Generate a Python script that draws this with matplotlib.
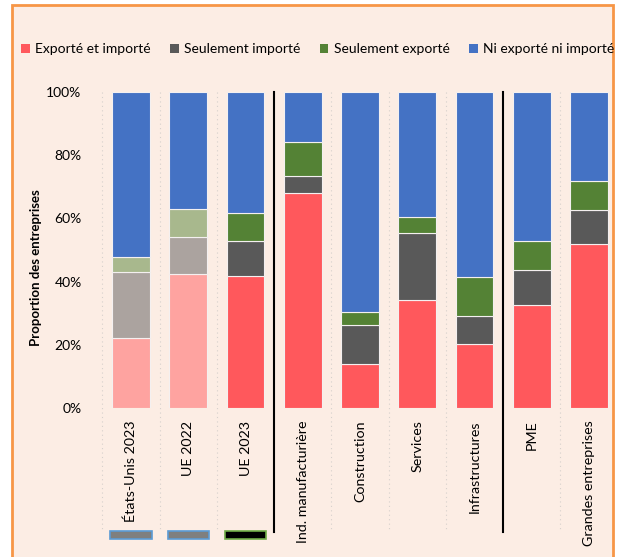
import numpy as np
import matplotlib
matplotlib.use("Agg")
import matplotlib.pyplot as plt
from matplotlib.patches import Rectangle, Patch
from matplotlib.colors import to_rgb

plt.rcParams['font.family'] = ['Lato', 'DejaVu Sans']

categories = ['États-Unis 2023', 'UE 2022', 'UE 2023',
              'Ind. manufacturière', 'Construction', 'Services', 'Infrastructures',
              'PME', 'Grandes entreprises']

# shares in %
export_import = [22.2, 42.3, 41.7, 67.9, 13.9, 34.1, 20.2, 32.5, 51.9]
import_only   = [20.8, 11.7, 11.1, 5.4, 12.3, 21.2, 9.0, 11.3, 10.8]
export_only   = [4.8, 8.9, 9.0, 10.8, 4.2, 5.1, 12.3, 9.0, 9.1]
neither = [100 - a - b - c for a, b, c in zip(export_import, import_only, export_only)]

series_names = ['Exporté et importé', 'Seulement importé', 'Seulement exporté', 'Ni exporté ni importé']
faded = [True, True, False, False, False, False, False, False, False]

bg = '#FCEDE4'
colors = ['#FF585C', '#595959', '#548235', '#4472C4']


def fade(c, amt=0.5):
    c = np.array(to_rgb(c))
    b = np.array(to_rgb(bg))
    return tuple(c * (1 - amt) + b * amt)


W, H = 618, 557
fig = plt.figure(figsize=(W / 100, H / 100), dpi=100)
fig.patch.set_facecolor('white')

# chart panel
fig.patches.append(Rectangle((12 / W, -0.01), (613 - 12) / W, 1 - 5 / H + 0.01,
                             transform=fig.transFigure, facecolor=bg,
                             edgecolor='#F79646', linewidth=2, zorder=-5))

ax = fig.add_axes([102.4 / W, (H - 408) / H, 515.2 / W, 316 / H])
ax.set_facecolor('none')
ax.set_zorder(2)

x = np.arange(len(categories))
bottom = np.zeros(len(categories))
data = [export_import, import_only, export_only, neither]
for k, vals in enumerate(data):
    vals = np.array(vals) / 100
    if k < 3:
        cols = [fade(colors[k]) if f else colors[k] for f in faded]
    else:
        cols = [colors[k]] * len(categories)
    ax.bar(x, vals, 0.66, bottom=bottom, color=cols, edgecolor='#F4F0F0', linewidth=0.8, zorder=3)
    bottom += vals

ax.set_xlim(-0.5, len(categories) - 0.5)
ax.set_ylim(0, 1)
ax.set_yticks(np.arange(0, 1.01, 0.2))
ax.set_yticklabels([f'{int(round(v * 100))}%' for v in np.arange(0, 1.01, 0.2)], fontsize=10)
ax.set_xticks(x)
ax.set_xticklabels(categories, rotation=90, fontsize=10.3, va='top', ha='center')
ax.tick_params(axis='y', length=0, pad=15)
ax.tick_params(axis='x', length=0, pad=9)
for s in ax.spines.values():
    s.set_visible(False)

# dotted separators between categories, solid between groups
xt = ax.get_xaxis_transform()
for b in [-0.5, 0.5, 1.5, 3.5, 4.5, 5.5, 7.5]:
    ax.plot([b, b], [1.0, -0.386], transform=xt, color='#D6D0CC', lw=0.8,
            ls=(0, (1, 3)), clip_on=False, zorder=1)
for b in [2.5, 6.5]:
    ax.plot([b, b], [1.0, -0.392], transform=xt, color='black', lw=1.5,
            clip_on=False, zorder=4)

# small boxes under the first three labels
box_style = [('#7F7F7F', '#5B9BD5'), ('#7F7F7F', '#5B9BD5'), ('black', '#70AD47')]
for i, (fc, ec) in enumerate(box_style):
    ax.add_patch(Rectangle((i - 0.36, -0.415), 0.72, 0.026, transform=xt,
                           facecolor=fc, edgecolor=ec, lw=1.2, clip_on=False))

fig.text(36 / W, 1 - 268 / H, 'Proportion des entreprises', rotation=90,
         ha='center', va='center', fontsize=9.5, fontweight='bold')

handles = [Patch(facecolor=c) for c in colors]
fig.legend(handles, series_names, loc='center', bbox_to_anchor=(318 / W, 1 - 49 / H),
           ncol=4, frameon=False, fontsize=10, handlelength=0.6, handleheight=0.6,
           handletextpad=0.4, columnspacing=1.4)

fig.savefig('out.png', dpi=100, facecolor=fig.get_facecolor())
